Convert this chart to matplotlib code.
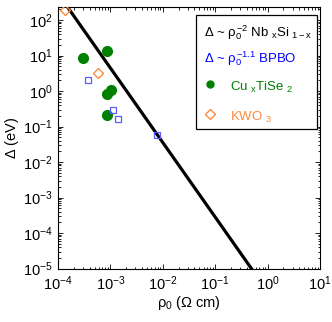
import numpy as np
import matplotlib
matplotlib.use('Agg')
import matplotlib.pyplot as plt
from matplotlib.patches import Rectangle
from matplotlib.ticker import LogLocator, NullFormatter

plt.rcParams['font.family'] = ['Liberation Sans', 'DejaVu Sans']
plt.rcParams['mathtext.fontset'] = 'custom'
plt.rcParams['mathtext.rm'] = 'Liberation Sans'
plt.rcParams['mathtext.it'] = 'Liberation Sans'

# ==========================================
# DATA
# ==========================================
# Cu_x TiSe2 (filled green circles)
cu_rho = [2.95e-4, 8.6e-4, 8.7e-4, 1.02e-3, 8.5e-4]
cu_delta = [8.3, 13.6, 0.81, 1.05, 0.207]

# BPBO (open blue squares)
bpbo_rho = [3.78e-4, 1.12e-3, 1.41e-3, 7.6e-3]
bpbo_delta = [2.02, 0.30, 0.16, 0.059]

# KWO3 (open orange diamonds)
kwo_rho = [1.35e-4, 5.8e-4]
kwo_delta = [190.0, 3.3]

# Nb_x Si_1-x power law fit: delta = A * rho^-n
fit_rho = np.array([1.55e-4, 0.49])
fit_n = 2.1
fit_logA = -5.651

# ==========================================
# PLOT
# ==========================================
fig = plt.figure(figsize=(3.32, 3.22), dpi=100)
ax = fig.add_axes([58 / 332, 1 - 268.5 / 322, 262 / 332, 261.8 / 322])

fit_delta = 10 ** fit_logA * fit_rho ** (-fit_n)
ax.plot(fit_rho, fit_delta, color='black', lw=2.3, zorder=2)

ax.plot(cu_rho, cu_delta, 'o', color='#008000', ms=7, zorder=3)
ax.plot(bpbo_rho, bpbo_delta, 's', mfc='none', mec='#5a5aff', mew=0.9, ms=4.8, zorder=3)
ax.plot(kwo_rho, kwo_delta, 'D', mfc='none', mec='#f98c3f', mew=1.0, ms=5.4, zorder=4)

ax.set_xscale('log')
ax.set_yscale('log')
ax.set_xlim(1e-4, 1e1)
ax.set_ylim(1e-5, 10 ** 2.376)
ax.set_xticks([1e-4, 1e-3, 1e-2, 1e-1, 1e0, 1e1])
ax.set_yticks([1e-5, 1e-4, 1e-3, 1e-2, 1e-1, 1e0, 1e1, 1e2])
ax.xaxis.set_minor_locator(LogLocator(base=10, subs=np.arange(2, 10), numticks=20))
ax.yaxis.set_minor_locator(LogLocator(base=10, subs=np.arange(2, 10), numticks=20))
ax.xaxis.set_minor_formatter(NullFormatter())
ax.yaxis.set_minor_formatter(NullFormatter())
ax.tick_params(which='both', direction='in', top=True, right=True, labelsize=10.5, width=0.6)
ax.tick_params(which='major', length=3.5, pad=4)
ax.tick_params(which='minor', length=1.8)
for s in ax.spines.values():
    s.set_linewidth(0.8)

ax.set_xlabel(r'$\rho_0$ ($\Omega$ cm)', fontsize=10.5, labelpad=1)
ax.set_ylabel(r'$\Delta$ (eV)', fontsize=10.5, labelpad=1)

# legend drawn by hand (first two entries have no symbol)
tr = ax.transAxes
def px(x, y):
    return ((x - 58) / 262, (268.5 - y) / 261.8)

x0, y0 = px(195.7, 129)
x1, y1 = px(317, 15.3)
ax.add_patch(Rectangle((x0, y0), x1 - x0, y1 - y0, transform=tr, fill=True,
                       fc='white', ec='black', lw=0.9, zorder=5))
fs = 9.5
ax.text(*px(204, 33), r'$\Delta$ ~ $\rho_0^{-2}$ Nb $_x$Si $_{1-x}$', transform=tr,
        fontsize=fs, color='black', va='center', zorder=6)
ax.text(*px(204, 59), r'$\Delta$ ~ $\rho_0^{-1.1}$ BPBO', transform=tr,
        fontsize=fs, color='blue', va='center', zorder=6)
ax.plot(*px(210, 84), 'o', color='#008000', ms=5, transform=tr, zorder=6, clip_on=False)
ax.text(*px(230, 87), r'Cu $_x$TiSe $_2$', transform=tr,
        fontsize=fs, color='#008000', va='center', zorder=6)
ax.plot(*px(210, 114), 'D', mfc='none', mec='#f98c3f', mew=1.0, ms=5,
        transform=tr, zorder=6, clip_on=False)
ax.text(*px(230, 117), r'KWO $_3$', transform=tr,
        fontsize=fs, color='#f98c3f', va='center', zorder=6)

fig.savefig('out.png', dpi=100)
